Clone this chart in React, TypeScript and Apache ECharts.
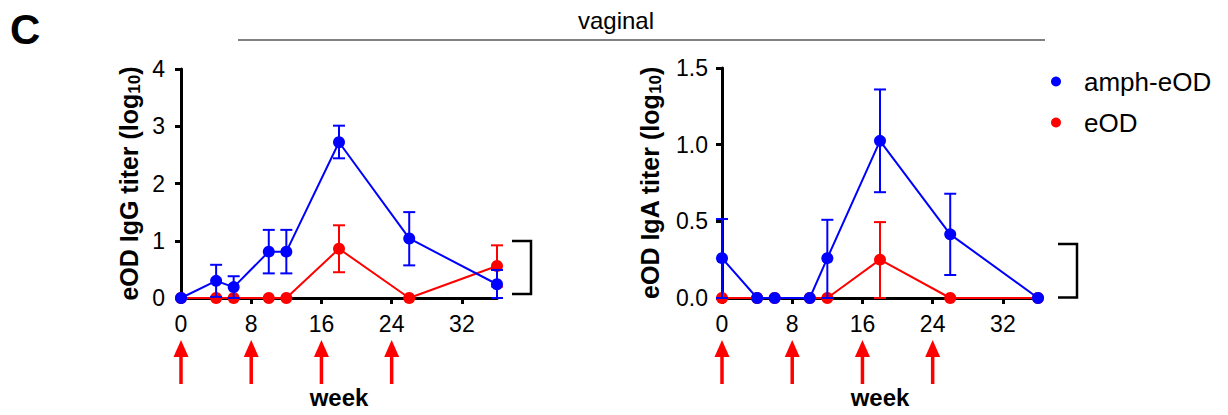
import React, { useEffect, useRef } from "react";
import * as echarts from "echarts";

const weeks = [0, 4, 6, 10, 12, 18, 26, 36];
const immunizationWeeks = [0, 8, 16, 24];
const xTicks = [0, 8, 16, 24, 32];

// IgG (left)
const ampIgG = [0, 0.3, 0.19, 0.81, 0.81, 2.72, 1.04, 0.24];
const ampIgGHi = [0, 0.58, 0.38, 1.19, 1.19, 3.01, 1.5, 0.49];
const ampIgGLo = [0, 0.02, 0, 0.43, 0.43, 2.44, 0.57, 0];
const eodIgG = [0, 0, 0, 0, 0, 0.86, 0, 0.56];
const eodIgGHi = [0, 0, 0, 0, 0, 1.27, 0, 0.92];
const eodIgGLo = [0, 0, 0, 0, 0, 0.45, 0, 0.2];

// IgA (right)
const ampIgA = [0.26, 0, 0, 0, 0.26, 1.025, 0.415, 0];
const ampIgAHi = [0.515, 0, 0, 0, 0.51, 1.36, 0.68, 0];
const ampIgALo = [0, 0, 0, 0, 0, 0.69, 0.15, 0];
const eodIgA = [0, 0, 0, 0, 0, 0.25, 0, 0];
const eodIgAHi = [0, 0, 0, 0, 0, 0.495, 0, 0];
const eodIgALo = [0, 0, 0, 0, 0, 0, 0, 0];

const BLUE = "#0000ff";
const RED = "#ff0000";
const FONT = "Liberation Sans, Arial, sans-serif";

function App() {
  const ref = useRef<HTMLDivElement>(null);
  useEffect(() => {
    if (!ref.current) return;
    const chart = echarts.init(ref.current, null, { renderer: "svg" });

    const errSeries = (name: string, gi: number, vals: number[], lo: number[], hi: number[], color: string, z: number) => ({
      type: "custom",
      name,
      xAxisIndex: gi,
      yAxisIndex: gi,
      clip: false,
      z,
      silent: true,
      data: weeks.map((w, i) => [w, lo[i], hi[i], vals[i]]).filter((d) => d[2] > d[1]),
      renderItem: (params: any, api: any) => {
        const x = api.value(0);
        const pLo = api.coord([x, api.value(1)]);
        const pHi = api.coord([x, api.value(2)]);
        const hw = 6;
        const st = { stroke: color, lineWidth: 2 };
        return {
          type: "group",
          children: [
            { type: "line", shape: { x1: pLo[0], y1: pLo[1], x2: pHi[0], y2: pHi[1] }, style: st },
            { type: "line", shape: { x1: pHi[0] - hw, y1: pHi[1], x2: pHi[0] + hw, y2: pHi[1] }, style: st },
            { type: "line", shape: { x1: pLo[0] - hw, y1: pLo[1], x2: pLo[0] + hw, y2: pLo[1] }, style: st },
          ],
        };
      },
    });

    const lineSeries = (name: string, gi: number, vals: number[], color: string, z: number) => ({
      type: "line",
      name,
      xAxisIndex: gi,
      yAxisIndex: gi,
      data: weeks.map((w, i) => [w, vals[i]]),
      symbol: "circle",
      symbolSize: 12,
      clip: false,
      z,
      itemStyle: { color },
      lineStyle: { color, width: 2 },
    });

    const arrowSeries = (gi: number) => ({
      type: "custom",
      xAxisIndex: gi,
      yAxisIndex: gi,
      clip: false,
      silent: true,
      data: immunizationWeeks.map((w) => [w, 0]),
      renderItem: (params: any, api: any) => {
        const p = api.coord([api.value(0), 0]);
        const x = p[0];
        const y0 = p[1];
        return {
          type: "group",
          children: [
            { type: "line", shape: { x1: x, y1: y0 + 55, x2: x, y2: y0 + 86 }, style: { stroke: RED, lineWidth: 3.5 } },
            {
              type: "polygon",
              shape: { points: [[x, y0 + 42], [x - 7.5, y0 + 59], [x + 7.5, y0 + 59]] },
              style: { fill: RED },
            },
          ],
        };
      },
    });

    const xAxis = (gi: number) => ({
      type: "value",
      gridIndex: gi,
      min: 0,
      max: 36,
      interval: 8,
      name: "week",
      nameLocation: "middle",
      nameGap: 87,
      nameTextStyle: { fontFamily: FONT, fontWeight: "bold", fontSize: 24, color: "#000" },
      axisLine: { show: true, onZero: false, lineStyle: { color: "#000", width: 3 } },
      axisTick: { show: true, length: 6, inside: false, lineStyle: { color: "#000", width: 3 }, customValues: xTicks },
      axisLabel: { fontFamily: FONT, fontSize: 23, color: "#000", margin: 14, customValues: xTicks },
      splitLine: { show: false },
    });

    const yAxis = (gi: number, max: number, interval: number, title: string, gap: number, dec: number) => ({
      type: "value",
      gridIndex: gi,
      min: 0,
      max,
      interval,
      name: `{t|${title} (log}{s|10}{t|)}`,
      nameLocation: "middle",
      nameRotate: 90,
      nameGap: gap,
      nameTextStyle: {
        rich: {
          t: { fontFamily: FONT, fontWeight: "bold", fontSize: 25, color: "#000", lineHeight: 28 },
          s: { fontFamily: FONT, fontWeight: "bold", fontSize: 17, color: "#000", verticalAlign: "bottom", lineHeight: 14 },
        },
      },
      axisLine: { show: true, lineStyle: { color: "#000", width: 3 } },
      axisTick: { show: true, length: 6, lineStyle: { color: "#000", width: 3 } },
      axisLabel: {
        fontFamily: FONT,
        fontSize: 23,
        color: "#000",
        margin: gi === 0 ? 16 : 14,
        formatter: (v: number) => v.toFixed(dec),
      },
      splitLine: { show: false },
    });

    const option: any = {
      animation: false,
      backgroundColor: "#fff",
      textStyle: { fontFamily: FONT },
      grid: [
        { left: 181, top: 69, width: 316, height: 229 },
        { left: 722, top: 68, width: 316, height: 230 },
      ],
      xAxis: [xAxis(0), xAxis(1)],
      yAxis: [
        yAxis(0, 4, 1, "eOD IgG titer", 38, 0),
        yAxis(1, 1.5, 0.5, "eOD IgA titer", 58, 1),
      ],
      legend: {
        orient: "vertical",
        left: 1046,
        top: 63,
        icon: "circle",
        itemWidth: 46,
        itemHeight: 10,
        itemGap: 14,
        textStyle: { fontFamily: FONT, fontSize: 26, color: "#000", lineHeight: 27 },
        data: ["amph-eOD", "eOD"],
      },
      graphic: [
        { type: "text", left: 10, top: 8, style: { text: "C", fontFamily: FONT, fontWeight: "bold", fontSize: 42, fill: "#000" } },
        {
          type: "text",
          x: 616,
          y: 20,
          style: { text: "vaginal", fontFamily: FONT, fontSize: 24, fill: "#000", textAlign: "center", textVerticalAlign: "middle" },
        },
        { type: "line", shape: { x1: 238, y1: 40, x2: 1045, y2: 40 }, style: { stroke: "#808080", lineWidth: 2 } },
        {
          type: "polyline",
          shape: { points: [[512, 241], [531, 241], [531, 294], [512, 294]] },
          style: { stroke: "#000", lineWidth: 2.5, fill: "none" },
        },
        {
          type: "polyline",
          shape: { points: [[1058, 244], [1077, 244], [1077, 297.5], [1058, 297.5]] },
          style: { stroke: "#000", lineWidth: 2.5, fill: "none" },
        },
      ],
      series: [
        lineSeries("eOD", 0, eodIgG, RED, 3),
        errSeries("eOD", 0, eodIgG, eodIgGLo, eodIgGHi, RED, 3),
        lineSeries("amph-eOD", 0, ampIgG, BLUE, 5),
        errSeries("amph-eOD", 0, ampIgG, ampIgGLo, ampIgGHi, BLUE, 5),
        lineSeries("eOD", 1, eodIgA, RED, 3),
        errSeries("eOD", 1, eodIgA, eodIgALo, eodIgAHi, RED, 3),
        lineSeries("amph-eOD", 1, ampIgA, BLUE, 5),
        errSeries("amph-eOD", 1, ampIgA, ampIgALo, ampIgAHi, BLUE, 5),
        arrowSeries(0),
        arrowSeries(1),
      ],
    };
    chart.setOption(option);
    return () => chart.dispose();
  }, []);
  return <div ref={ref} style={{ position: "absolute", left: 0, top: 0, width: 1228, height: 415 }} />;
}

export default App;
